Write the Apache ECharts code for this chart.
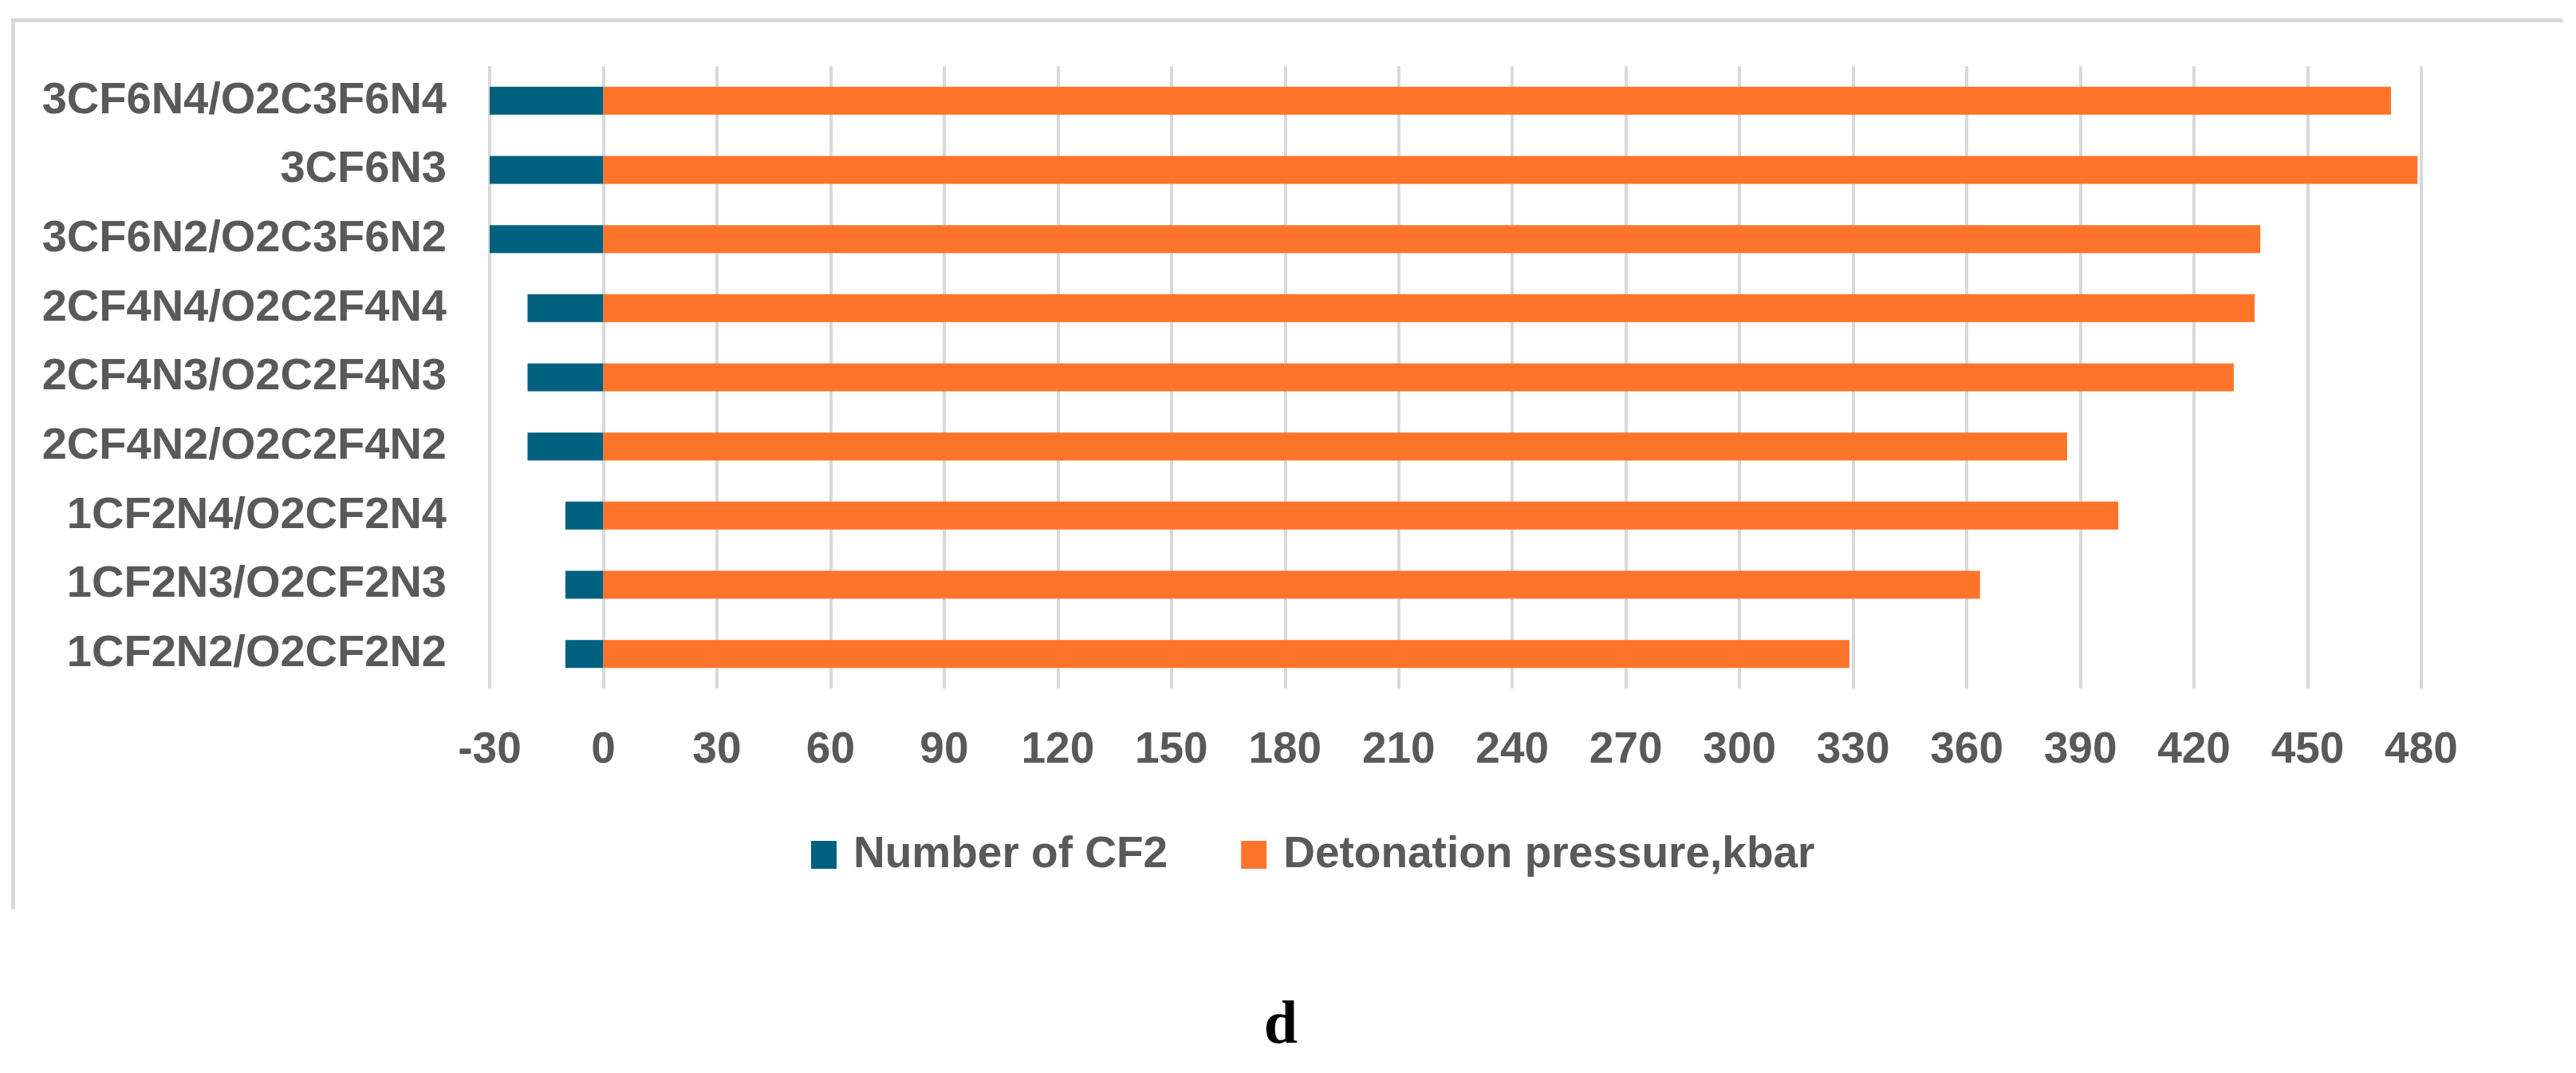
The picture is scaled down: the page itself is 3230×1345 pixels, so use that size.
<!DOCTYPE html>
<html>
<head>
<meta charset="utf-8">
<script src="https://cdn.jsdelivr.net/npm/echarts@6/dist/echarts.min.js"></script>
<style>
html,body{margin:0;padding:0;background:#fff;}
#chart{width:3230px;height:1345px;}
</style>
</head>
<body>
<div id="chart"></div>
<script>
const categories = [
  '3CF6N4/O2C3F6N4',
  '3CF6N3',
  '3CF6N2/O2C3F6N2',
  '2CF4N4/O2C2F4N4',
  '2CF4N3/O2C2F4N3',
  '2CF4N2/O2C2F4N2',
  '1CF2N4/O2CF2N4',
  '1CF2N3/O2CF2N3',
  '1CF2N2/O2CF2N2'
];
const numberOfCF2 = [-30, -30, -30, -20, -20, -20, -10, -10, -10];
const detonationPressure = [472, 479, 437.5, 436, 430.5, 386.5, 400, 363.5, 329];
const seriesNames = ['Number of CF2', 'Detonation pressure,kbar'];
const panelLabel = 'd';

const FONT = "'Liberation Sans', Arial, sans-serif";
const chart = echarts.init(document.getElementById('chart'));
chart.setOption({
  animation: false,
  backgroundColor: '#ffffff',
  grid: { left: 614, right: 194, top: 83, bottom: 482, containLabel: false },
  legend: {
    data: seriesNames,
    left: 1012,
    top: 1039,
    icon: 'rect',
    itemWidth: 32,
    itemHeight: 35,
    itemGap: 92,
    textStyle: { fontFamily: FONT, fontWeight: 'bold', fontSize: 55, color: '#595959', lineHeight: 55, padding: [0, 0, 0, 16] }
  },
  xAxis: {
    type: 'value',
    min: -30,
    max: 480,
    interval: 30,
    axisLine: { show: false },
    axisTick: { show: false },
    splitLine: { show: true, lineStyle: { color: '#d9d9d9', width: 4 } },
    axisLabel: { fontFamily: FONT, fontWeight: 'bold', fontSize: 55, color: '#595959', margin: 50 }
  },
  yAxis: {
    type: 'category',
    data: categories,
    inverse: true,
    axisLine: { show: false },
    axisTick: { show: false },
    axisLabel: { fontFamily: FONT, fontWeight: 'bold', fontSize: 56, color: '#595959', margin: 54 }
  },
  series: [
    {
      name: seriesNames[0],
      type: 'bar',
      data: numberOfCF2,
      barWidth: 35,
      barGap: '-100%',
      itemStyle: { color: '#00607f' }
    },
    {
      name: seriesNames[1],
      type: 'bar',
      data: detonationPressure,
      barWidth: 35,
      itemStyle: { color: '#ff742b' }
    }
  ],
  graphic: [
    { type: 'line', shape: { x1: 14, y1: 25.5, x2: 3213, y2: 25.5 }, style: { stroke: '#d9d9d9', lineWidth: 5 } },
    { type: 'line', shape: { x1: 16.5, y1: 23, x2: 16.5, y2: 1140 }, style: { stroke: '#d9d9d9', lineWidth: 5 } },
    { type: 'text', x: 1606, y: 1287, style: { text: panelLabel, font: "bold 76px 'Liberation Serif', 'Times New Roman', serif", fill: '#000', textAlign: 'center', textVerticalAlign: 'middle' } }
  ]
});
</script>
</body>
</html>
